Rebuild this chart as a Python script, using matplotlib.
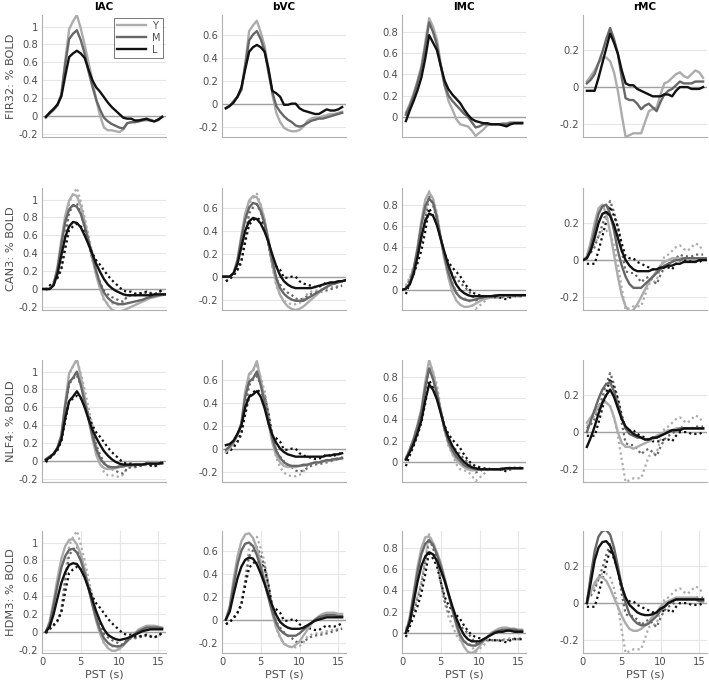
import numpy as np
import matplotlib.pyplot as plt

regions = ['lAC', 'bVC', 'lMC', 'rMC']
models = ['FIR32', 'CAN3', 'NLF4', 'HDM3']
groups = ['Y', 'M', 'L']
group_colors = ['#acacac', '#676767', '#111111']

# post-stimulus time grids (s)
t_fir = np.arange(0.5, 16, 0.5)
t_can = np.arange(0, 16.5, 0.5)
t_nlf = np.arange(0.5, 16, 0.5)
t_hdm = np.arange(0.5, 16, 0.5)

# ---- FIR32 estimates (also shown dotted under the model fits) ----
fir_lac_y = [-0.02, 0.03, 0.07, 0.12, 0.24, 0.62, 0.97, 1.06, 1.13, 0.98, 0.80, 0.60, 0.40, 0.18, 0.00, -0.13, -0.16, -0.16, -0.17, -0.18, -0.15, -0.08, -0.07, -0.06, -0.05, -0.04, -0.05, -0.04, -0.06, -0.05, -0.01]
fir_lac_m = [-0.01, 0.03, 0.07, 0.12, 0.24, 0.58, 0.86, 0.92, 0.96, 0.85, 0.70, 0.50, 0.33, 0.18, 0.07, -0.02, -0.06, -0.09, -0.11, -0.13, -0.14, -0.08, -0.07, -0.07, -0.06, -0.05, -0.04, -0.05, -0.06, -0.04, -0.01]
fir_lac_l = [-0.01, 0.04, 0.08, 0.13, 0.22, 0.45, 0.66, 0.70, 0.73, 0.70, 0.65, 0.52, 0.40, 0.32, 0.27, 0.21, 0.15, 0.10, 0.06, 0.02, -0.02, -0.03, -0.03, -0.05, -0.05, -0.04, -0.03, -0.05, -0.06, -0.04, -0.01]

fir_bvc_y = [-0.04, -0.02, 0.02, 0.06, 0.12, 0.35, 0.63, 0.68, 0.72, 0.62, 0.50, 0.30, 0.08, -0.08, -0.16, -0.21, -0.23, -0.24, -0.24, -0.23, -0.20, -0.15, -0.13, -0.12, -0.12, -0.11, -0.10, -0.09, -0.09, -0.08, -0.07]
fir_bvc_m = [-0.04, -0.02, 0.02, 0.06, 0.12, 0.33, 0.55, 0.60, 0.63, 0.56, 0.46, 0.27, 0.10, -0.02, -0.07, -0.11, -0.14, -0.16, -0.19, -0.20, -0.19, -0.17, -0.15, -0.14, -0.13, -0.13, -0.12, -0.11, -0.10, -0.09, -0.08]
fir_bvc_l = [-0.04, -0.02, 0.01, 0.06, 0.14, 0.30, 0.45, 0.49, 0.51, 0.49, 0.45, 0.30, 0.11, 0.09, 0.06, -0.01, -0.01, 0.00, 0.00, -0.04, -0.06, -0.07, -0.08, -0.09, -0.09, -0.07, -0.05, -0.06, -0.06, -0.05, -0.03]

fir_lmc_y = [0.04, 0.12, 0.22, 0.34, 0.48, 0.70, 0.93, 0.85, 0.73, 0.50, 0.29, 0.15, 0.07, -0.02, -0.07, -0.08, -0.09, -0.13, -0.18, -0.15, -0.12, -0.08, -0.07, -0.07, -0.07, -0.06, -0.06, -0.05, -0.05, -0.05, -0.05]
fir_lmc_m = [0.02, 0.10, 0.20, 0.32, 0.45, 0.66, 0.89, 0.80, 0.68, 0.48, 0.30, 0.20, 0.15, 0.11, 0.07, 0.03, 0.00, -0.05, -0.10, -0.09, -0.07, -0.07, -0.07, -0.07, -0.07, -0.07, -0.07, -0.06, -0.06, -0.06, -0.06]
fir_lmc_l = [-0.04, 0.06, 0.15, 0.25, 0.37, 0.55, 0.77, 0.70, 0.63, 0.48, 0.34, 0.26, 0.21, 0.17, 0.13, 0.07, 0.02, -0.02, -0.04, -0.05, -0.06, -0.06, -0.07, -0.07, -0.07, -0.08, -0.09, -0.07, -0.06, -0.06, -0.06]

fir_rmc_y = [0.03, 0.06, 0.09, 0.13, 0.16, 0.16, 0.14, 0.08, -0.02, -0.15, -0.27, -0.26, -0.25, -0.25, -0.25, -0.19, -0.13, -0.12, -0.11, -0.04, 0.02, 0.03, 0.05, 0.07, 0.08, 0.06, 0.05, 0.07, 0.09, 0.08, 0.05]
fir_rmc_m = [0.02, 0.04, 0.07, 0.13, 0.19, 0.26, 0.32, 0.26, 0.18, 0.05, -0.06, -0.07, -0.07, -0.09, -0.12, -0.10, -0.09, -0.11, -0.13, -0.08, -0.04, -0.02, -0.01, 0.01, 0.03, 0.02, 0.02, 0.02, 0.03, 0.03, 0.03]
fir_rmc_l = [-0.02, -0.02, -0.02, 0.05, 0.13, 0.21, 0.29, 0.24, 0.18, 0.09, 0.02, 0.01, 0.01, -0.01, -0.02, -0.03, -0.04, -0.05, -0.05, -0.05, -0.04, -0.04, -0.05, -0.02, 0.00, 0.00, 0.00, -0.01, -0.01, -0.01, 0.00]

# ---- CAN3 fits ----
can_lac_y = [0.0, 0.0, 0.0, 0.06, 0.25, 0.55, 0.82, 0.99, 1.06, 1.04, 0.93, 0.76, 0.55, 0.34, 0.15, 0.0, -0.11, -0.18, -0.23, -0.25, -0.25, -0.24, -0.22, -0.20, -0.18, -0.16, -0.14, -0.12, -0.10, -0.09, -0.08, -0.07, -0.06]
can_lac_m = [0.0, 0.0, 0.0, 0.05, 0.22, 0.50, 0.75, 0.89, 0.94, 0.92, 0.84, 0.70, 0.54, 0.37, 0.20, 0.06, -0.04, -0.10, -0.14, -0.16, -0.17, -0.17, -0.16, -0.15, -0.14, -0.13, -0.12, -0.10, -0.09, -0.08, -0.07, -0.06, -0.06]
can_lac_l = [0.0, 0.0, 0.0, 0.04, 0.17, 0.38, 0.58, 0.70, 0.75, 0.74, 0.69, 0.60, 0.50, 0.39, 0.28, 0.19, 0.11, 0.05, 0.01, -0.02, -0.04, -0.06, -0.07, -0.07, -0.07, -0.07, -0.07, -0.07, -0.07, -0.06, -0.06, -0.06, -0.06]

can_bvc_y = [0.0, 0.0, 0.0, 0.03, 0.15, 0.36, 0.55, 0.66, 0.70, 0.69, 0.62, 0.49, 0.32, 0.11, -0.06, -0.16, -0.22, -0.26, -0.28, -0.29, -0.28, -0.26, -0.23, -0.20, -0.17, -0.14, -0.11, -0.09, -0.07, -0.06, -0.05, -0.04, -0.03]
can_bvc_m = [0.0, 0.0, 0.0, 0.03, 0.14, 0.33, 0.50, 0.60, 0.64, 0.63, 0.57, 0.46, 0.31, 0.14, -0.01, -0.10, -0.15, -0.18, -0.20, -0.21, -0.21, -0.21, -0.19, -0.17, -0.15, -0.13, -0.11, -0.09, -0.07, -0.06, -0.05, -0.04, -0.03]
can_bvc_l = [0.0, 0.0, 0.0, 0.03, 0.11, 0.26, 0.40, 0.48, 0.51, 0.50, 0.46, 0.39, 0.30, 0.19, 0.09, 0.01, -0.04, -0.07, -0.09, -0.10, -0.10, -0.10, -0.10, -0.10, -0.09, -0.08, -0.07, -0.06, -0.05, -0.05, -0.04, -0.04, -0.03]

can_lmc_y = [0.0, 0.01, 0.06, 0.20, 0.40, 0.65, 0.85, 0.92, 0.86, 0.70, 0.48, 0.28, 0.11, -0.02, -0.10, -0.14, -0.16, -0.16, -0.15, -0.13, -0.11, -0.09, -0.08, -0.07, -0.06, -0.06, -0.05, -0.05, -0.05, -0.05, -0.05, -0.05, -0.05]
can_lmc_m = [0.0, 0.01, 0.06, 0.19, 0.38, 0.61, 0.79, 0.86, 0.82, 0.68, 0.49, 0.31, 0.16, 0.05, -0.03, -0.07, -0.09, -0.10, -0.10, -0.09, -0.08, -0.07, -0.06, -0.06, -0.05, -0.05, -0.05, -0.05, -0.05, -0.05, -0.05, -0.05, -0.05]
can_lmc_l = [0.0, 0.01, 0.05, 0.15, 0.31, 0.50, 0.65, 0.72, 0.70, 0.61, 0.48, 0.35, 0.23, 0.13, 0.05, 0.0, -0.03, -0.05, -0.06, -0.06, -0.06, -0.06, -0.06, -0.06, -0.06, -0.05, -0.05, -0.05, -0.05, -0.05, -0.05, -0.05, -0.05]

can_rmc_y = [0.0, 0.02, 0.10, 0.20, 0.28, 0.30, 0.25, 0.15, 0.03, -0.09, -0.19, -0.25, -0.28, -0.27, -0.24, -0.20, -0.16, -0.12, -0.09, -0.06, -0.03, -0.01, 0.0, 0.01, 0.01, 0.01, 0.01, 0.01, 0.01, 0.01, 0.01, 0.01, 0.01]
can_rmc_m = [0.0, 0.01, 0.07, 0.16, 0.25, 0.29, 0.30, 0.25, 0.16, 0.05, -0.03, -0.09, -0.13, -0.15, -0.15, -0.15, -0.13, -0.11, -0.09, -0.07, -0.05, -0.03, -0.02, -0.01, 0.0, 0.0, 0.01, 0.01, 0.01, 0.01, 0.01, 0.01, 0.01]
can_rmc_l = [0.0, 0.01, 0.05, 0.12, 0.20, 0.25, 0.26, 0.24, 0.19, 0.12, 0.05, 0.0, -0.03, -0.05, -0.06, -0.06, -0.06, -0.06, -0.05, -0.05, -0.04, -0.04, -0.03, -0.03, -0.02, -0.02, -0.01, -0.01, -0.01, -0.01, 0.0, 0.0, 0.0]

# ---- NLF4 fits ----
nlf_lac_y = [0.02, 0.05, 0.08, 0.15, 0.30, 0.65, 0.98, 1.06, 1.14, 0.95, 0.72, 0.48, 0.25, 0.07, -0.04, -0.08, -0.09, -0.09, -0.08, -0.07, -0.06, -0.05, -0.05, -0.04, -0.04, -0.04, -0.03, -0.03, -0.03, -0.03, -0.03]
nlf_lac_m = [0.02, 0.05, 0.08, 0.15, 0.28, 0.62, 0.88, 0.93, 1.00, 0.85, 0.66, 0.47, 0.29, 0.13, 0.03, -0.03, -0.06, -0.07, -0.07, -0.06, -0.06, -0.05, -0.05, -0.04, -0.04, -0.04, -0.03, -0.03, -0.03, -0.03, -0.03]
nlf_lac_l = [0.01, 0.04, 0.08, 0.14, 0.24, 0.48, 0.67, 0.72, 0.78, 0.71, 0.60, 0.47, 0.35, 0.26, 0.18, 0.11, 0.06, 0.02, -0.01, -0.03, -0.04, -0.04, -0.04, -0.04, -0.04, -0.04, -0.03, -0.03, -0.03, -0.03, -0.02]

nlf_bvc_y = [-0.03, 0.0, 0.05, 0.12, 0.22, 0.50, 0.65, 0.68, 0.76, 0.60, 0.42, 0.22, 0.05, -0.06, -0.12, -0.15, -0.16, -0.16, -0.16, -0.15, -0.15, -0.14, -0.13, -0.12, -0.12, -0.11, -0.11, -0.10, -0.10, -0.09, -0.09]
nlf_bvc_m = [-0.01, 0.02, 0.06, 0.12, 0.22, 0.45, 0.58, 0.61, 0.67, 0.55, 0.40, 0.23, 0.09, -0.02, -0.08, -0.12, -0.14, -0.15, -0.15, -0.15, -0.14, -0.14, -0.13, -0.12, -0.12, -0.11, -0.10, -0.10, -0.09, -0.09, -0.08]
nlf_bvc_l = [0.03, 0.04, 0.07, 0.13, 0.20, 0.36, 0.45, 0.47, 0.50, 0.45, 0.35, 0.22, 0.12, 0.05, 0.0, -0.03, -0.05, -0.06, -0.07, -0.07, -0.07, -0.07, -0.07, -0.07, -0.07, -0.07, -0.06, -0.06, -0.05, -0.05, -0.04]

nlf_lmc_y = [0.03, 0.12, 0.22, 0.35, 0.50, 0.75, 0.96, 0.84, 0.68, 0.48, 0.30, 0.17, 0.08, 0.02, -0.02, -0.05, -0.07, -0.08, -0.08, -0.07, -0.07, -0.07, -0.07, -0.07, -0.07, -0.06, -0.06, -0.06, -0.06, -0.06, -0.06]
nlf_lmc_m = [0.03, 0.11, 0.21, 0.33, 0.47, 0.70, 0.88, 0.78, 0.64, 0.47, 0.31, 0.19, 0.11, 0.05, 0.01, -0.03, -0.05, -0.06, -0.07, -0.07, -0.07, -0.07, -0.07, -0.07, -0.07, -0.06, -0.06, -0.06, -0.06, -0.06, -0.06]
nlf_lmc_l = [0.02, 0.09, 0.17, 0.27, 0.39, 0.58, 0.73, 0.68, 0.59, 0.46, 0.33, 0.23, 0.15, 0.09, 0.04, 0.0, -0.03, -0.05, -0.06, -0.07, -0.07, -0.07, -0.07, -0.07, -0.07, -0.07, -0.06, -0.06, -0.06, -0.06, -0.06]

nlf_rmc_y = [0.05, 0.08, 0.11, 0.14, 0.16, 0.16, 0.14, 0.08, 0.0, -0.06, -0.08, -0.08, -0.09, -0.08, -0.07, -0.06, -0.05, -0.04, -0.02, -0.01, 0.0, 0.01, 0.01, 0.02, 0.02, 0.02, 0.02, 0.02, 0.02, 0.02, 0.02]
nlf_rmc_m = [0.0, 0.06, 0.12, 0.18, 0.23, 0.26, 0.27, 0.22, 0.15, 0.08, 0.02, -0.01, -0.02, -0.03, -0.03, -0.04, -0.04, -0.03, -0.03, -0.02, -0.01, 0.0, 0.01, 0.01, 0.02, 0.02, 0.02, 0.02, 0.02, 0.02, 0.02]
nlf_rmc_l = [-0.08, -0.03, 0.03, 0.10, 0.16, 0.20, 0.23, 0.19, 0.13, 0.07, 0.03, 0.01, -0.01, -0.02, -0.03, -0.04, -0.04, -0.03, -0.03, -0.02, -0.01, 0.0, 0.01, 0.01, 0.01, 0.02, 0.02, 0.02, 0.02, 0.02, 0.02]

# ---- HDM3 fits ----
hdm_lac_y = [0.0, 0.12, 0.35, 0.60, 0.82, 0.96, 1.03, 1.04, 0.98, 0.87, 0.70, 0.50, 0.30, 0.12, -0.02, -0.12, -0.18, -0.21, -0.21, -0.19, -0.15, -0.10, -0.05, -0.01, 0.03, 0.05, 0.07, 0.07, 0.07, 0.06, 0.05]
hdm_lac_m = [0.0, 0.10, 0.30, 0.52, 0.72, 0.85, 0.92, 0.93, 0.89, 0.80, 0.66, 0.49, 0.31, 0.15, 0.02, -0.07, -0.12, -0.15, -0.16, -0.16, -0.14, -0.10, -0.06, -0.02, 0.01, 0.03, 0.05, 0.05, 0.05, 0.05, 0.04]
hdm_lac_l = [0.0, 0.06, 0.20, 0.38, 0.55, 0.67, 0.75, 0.77, 0.76, 0.70, 0.61, 0.49, 0.36, 0.23, 0.12, 0.03, -0.03, -0.06, -0.08, -0.09, -0.08, -0.07, -0.05, -0.03, -0.01, 0.01, 0.02, 0.03, 0.03, 0.03, 0.03]

hdm_bvc_y = [0.0, 0.12, 0.35, 0.55, 0.68, 0.74, 0.75, 0.71, 0.62, 0.49, 0.34, 0.19, 0.05, -0.07, -0.15, -0.21, -0.23, -0.24, -0.22, -0.19, -0.14, -0.09, -0.04, 0.0, 0.03, 0.05, 0.06, 0.06, 0.06, 0.05, 0.05]
hdm_bvc_m = [0.0, 0.10, 0.30, 0.48, 0.60, 0.66, 0.67, 0.64, 0.56, 0.45, 0.32, 0.19, 0.07, -0.03, -0.09, -0.12, -0.14, -0.14, -0.14, -0.12, -0.09, -0.06, -0.03, 0.0, 0.02, 0.03, 0.04, 0.04, 0.04, 0.03, 0.03]
hdm_bvc_l = [0.0, 0.07, 0.22, 0.36, 0.46, 0.52, 0.54, 0.53, 0.48, 0.40, 0.31, 0.21, 0.12, 0.04, -0.02, -0.05, -0.07, -0.08, -0.08, -0.08, -0.07, -0.05, -0.03, -0.01, 0.0, 0.01, 0.02, 0.02, 0.02, 0.02, 0.02]

hdm_lmc_y = [0.0, 0.15, 0.38, 0.62, 0.80, 0.90, 0.91, 0.85, 0.76, 0.66, 0.52, 0.37, 0.22, 0.07, -0.05, -0.13, -0.18, -0.19, -0.17, -0.13, -0.08, -0.04, 0.0, 0.02, 0.04, 0.05, 0.05, 0.04, 0.04, 0.03, 0.03]
hdm_lmc_m = [0.0, 0.13, 0.35, 0.57, 0.74, 0.84, 0.87, 0.83, 0.74, 0.63, 0.50, 0.36, 0.22, 0.09, -0.02, -0.08, -0.11, -0.12, -0.12, -0.10, -0.07, -0.04, -0.01, 0.01, 0.02, 0.03, 0.03, 0.03, 0.03, 0.02, 0.02]
hdm_lmc_l = [0.0, 0.10, 0.29, 0.48, 0.63, 0.72, 0.76, 0.74, 0.68, 0.59, 0.49, 0.37, 0.25, 0.14, 0.05, -0.02, -0.06, -0.08, -0.08, -0.08, -0.06, -0.04, -0.02, 0.0, 0.01, 0.01, 0.02, 0.02, 0.01, 0.01, 0.01]

hdm_rmc_y = [0.0, 0.06, 0.11, 0.14, 0.14, 0.12, 0.08, 0.03, -0.02, -0.07, -0.11, -0.14, -0.15, -0.15, -0.14, -0.12, -0.10, -0.07, -0.05, -0.02, 0.0, 0.01, 0.02, 0.03, 0.03, 0.03, 0.03, 0.03, 0.03, 0.02, 0.02]
hdm_rmc_m = [0.0, 0.15, 0.28, 0.36, 0.39, 0.395, 0.37, 0.30, 0.20, 0.09, 0.0, -0.06, -0.09, -0.11, -0.12, -0.12, -0.11, -0.09, -0.07, -0.04, -0.02, 0.0, 0.01, 0.02, 0.02, 0.02, 0.02, 0.02, 0.02, 0.01, 0.01]
hdm_rmc_l = [0.0, 0.11, 0.23, 0.30, 0.33, 0.335, 0.31, 0.25, 0.17, 0.09, 0.03, -0.01, -0.03, -0.05, -0.06, -0.065, -0.065, -0.06, -0.05, -0.03, -0.02, 0.0, 0.01, 0.02, 0.02, 0.02, 0.02, 0.02, 0.02, 0.02, 0.02]

fir = [[fir_lac_y, fir_lac_m, fir_lac_l], [fir_bvc_y, fir_bvc_m, fir_bvc_l],
       [fir_lmc_y, fir_lmc_m, fir_lmc_l], [fir_rmc_y, fir_rmc_m, fir_rmc_l]]
fits = {
    'CAN3': (t_can, [[can_lac_y, can_lac_m, can_lac_l], [can_bvc_y, can_bvc_m, can_bvc_l],
                     [can_lmc_y, can_lmc_m, can_lmc_l], [can_rmc_y, can_rmc_m, can_rmc_l]]),
    'NLF4': (t_nlf, [[nlf_lac_y, nlf_lac_m, nlf_lac_l], [nlf_bvc_y, nlf_bvc_m, nlf_bvc_l],
                     [nlf_lmc_y, nlf_lmc_m, nlf_lmc_l], [nlf_rmc_y, nlf_rmc_m, nlf_rmc_l]]),
    'HDM3': (t_hdm, [[hdm_lac_y, hdm_lac_m, hdm_lac_l], [hdm_bvc_y, hdm_bvc_m, hdm_bvc_l],
                     [hdm_lmc_y, hdm_lmc_m, hdm_lmc_l], [hdm_rmc_y, hdm_rmc_m, hdm_rmc_l]]),
}

col_ylims = [(-0.235, 1.13), (-0.29, 0.77), (-0.19, 0.96), (-0.27, 0.39)]
col_yticks = [[-0.2, 0, 0.2, 0.4, 0.6, 0.8, 1], [-0.2, 0, 0.2, 0.4, 0.6],
              [0, 0.2, 0.4, 0.6, 0.8], [-0.2, 0, 0.2]]

txt = '#4d4d4d'
fig = plt.figure(figsize=(7.09, 6.86), dpi=100)
lefts = [42, 222, 402, 583]
bottoms = [137, 310, 482, 653]
W, H = 124, 122

for r, model in enumerate(models):
    for c, region in enumerate(regions):
        ax = fig.add_axes([lefts[c] / 709, 1 - bottoms[r] / 686, W / 709, H / 686])
        ax.axhline(0, color='#a0a0a0', lw=1.0, zorder=1)
        if model == 'FIR32':
            for k in range(3):
                ax.plot(t_fir, fir[c][k], color=group_colors[k], lw=1.7, label=groups[k], zorder=3)
        else:
            tt, curves = fits[model]
            for k in range(3):
                ax.plot(t_fir, fir[c][k], color=group_colors[k], lw=1.6, ls=(0, (1, 1.4)), zorder=2)
            for k in range(3):
                ax.plot(tt, curves[c][k], color=group_colors[k], lw=1.7, zorder=3)

        ax.set_xlim(0, 16)
        ax.set_ylim(*col_ylims[c])
        ax.set_yticks(col_yticks[c])
        ax.set_yticklabels(['%g' % v for v in col_yticks[c]])
        if r == 3:
            ax.set_xticks([0, 5, 10, 15])
            ax.set_xlabel('PST (s)', fontsize=8, color=txt, labelpad=2)
        else:
            ax.set_xticks([])
        ax.grid(True, color='#e6e6e6', lw=0.8, zorder=0)
        ax.set_axisbelow(True)
        ax.tick_params(length=0, labelsize=7.2, colors=txt, pad=3)
        for s in ['top', 'right']:
            ax.spines[s].set_visible(False)
        for s in ['left', 'bottom']:
            ax.spines[s].set_color('#b0b0b0')
            ax.spines[s].set_linewidth(0.8)
        if r == 0:
            ax.set_title(region, fontsize=7.5, fontweight='bold', pad=3.5)
        if c == 0:
            ax.set_ylabel(model + ': % BOLD', fontsize=8.2, color=txt, labelpad=2)
        if r == 0 and c == 0:
            leg = ax.legend(loc='upper right', fontsize=7, handlelength=3.0, frameon=True,
                            fancybox=False, borderpad=0.3, labelspacing=0.2, handletextpad=0.6,
                            borderaxespad=0.3)
            leg.get_frame().set_edgecolor('#555555')
            leg.get_frame().set_linewidth(0.7)
            for t in leg.get_texts():
                t.set_color(txt)

fig.savefig('out.png', dpi=100)
